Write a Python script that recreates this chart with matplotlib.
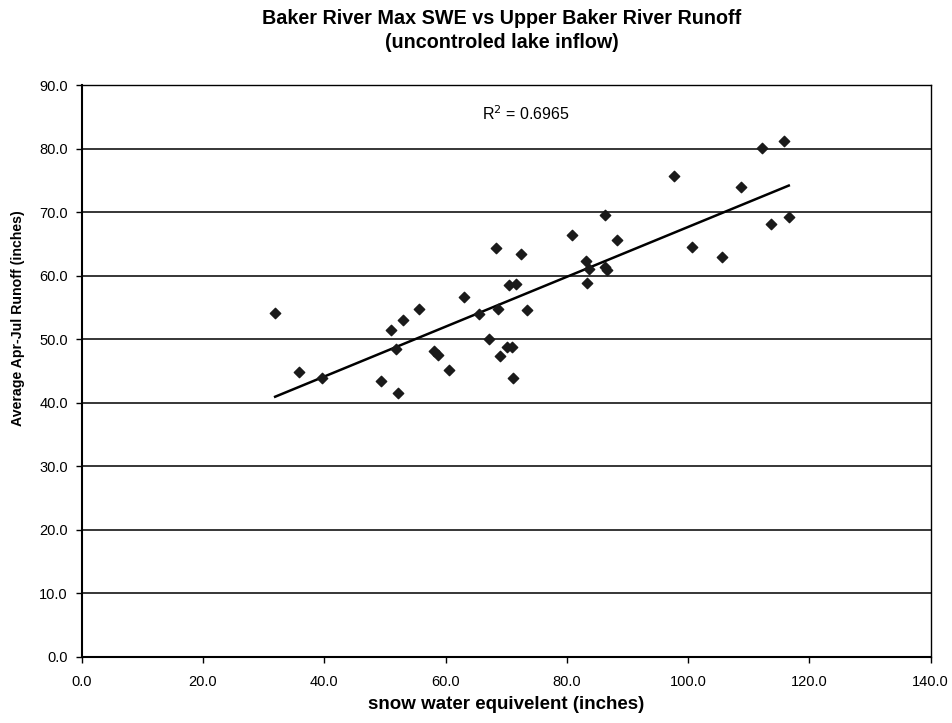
import numpy as np
import matplotlib.pyplot as plt

plt.rcParams['font.family'] = ['Liberation Sans', 'DejaVu Sans']

# max SWE (inches) and Apr-Jul runoff (inches)
swe = [31.9, 35.9, 39.7, 49.4, 51.0, 51.9, 52.1, 53.0, 55.7, 58.1,
       58.8, 60.5, 63.1, 65.5, 67.1, 68.3, 68.7, 69.0, 70.1, 70.5,
       70.9, 71.1, 71.6, 72.4, 73.4, 80.9, 83.1, 83.3, 83.7, 86.3,
       86.3, 86.7, 88.3, 97.6, 100.6, 105.6, 108.7, 112.2, 113.6, 115.8,
       116.6]
runoff = [54.2, 44.8, 43.9, 43.5, 51.5, 48.4, 41.5, 53.0, 54.7, 48.1,
          47.5, 45.2, 56.6, 54.0, 50.1, 64.3, 54.7, 47.4, 48.8, 58.5,
          48.8, 43.9, 58.7, 63.4, 54.6, 66.4, 62.4, 58.9, 61.0, 69.5,
          61.4, 60.9, 65.7, 75.7, 64.6, 63.0, 74.0, 80.2, 68.2, 81.3,
          69.3]
r2_text = "R$^2$ = 0.6965"

x = np.array(swe)
y = np.array(runoff)

fig = plt.figure(figsize=(9.52, 7.23), dpi=100, facecolor='white')
ax = fig.add_axes([0.0858, 0.0917, 0.8918, 0.7903])

ax.set(xlim=(0, 140), xticks=np.arange(0, 141, 20),
       ylim=(0, 90), yticks=np.arange(0, 91, 10))
ax.set_xticklabels([f"{v:.1f}" for v in np.arange(0, 141, 20)])
ax.set_yticklabels([f"{v:.1f}" for v in np.arange(0, 91, 10)])

# horizontal gridlines like Excel
ax.yaxis.grid(True, color='black', linewidth=1.1)
ax.set_axisbelow(True)

ax.scatter(x, y, marker='D', s=28, color='#1a1a1a', zorder=3)

# linear trend line over the data range
m, b = np.polyfit(x, y, 1)
xs = np.array([x.min(), x.max()])
ax.plot(xs, m * xs + b, color='black', linewidth=1.8, zorder=2)

ax.text(73.3, 85.6, r2_text, ha='center', va='center', fontsize=11.5)

for s in ax.spines.values():
    s.set_color('black')
    s.set_linewidth(1.0)
ax.spines['left'].set_linewidth(1.5)
ax.spines['bottom'].set_linewidth(1.5)

ax.tick_params(direction='out', length=4, width=1, labelsize=10.5)
ax.tick_params(axis='x', pad=9)
ax.tick_params(axis='y', pad=6)

ax.set_xlabel('snow water equivelent (inches)', fontsize=13.5, fontweight='bold', labelpad=5)
ax.set_ylabel('Average Apr-Jul Runoff (inches)', fontsize=10.2, fontweight='bold')
ax.yaxis.set_label_coords(-0.067, 0.5925)

fig.text(0.527, 0.9575, 'Baker River Max SWE vs Upper Baker River Runoff\n(uncontroled lake inflow)',
         ha='center', va='center', fontsize=14.2, fontweight='bold', linespacing=1.32)

plt.savefig('out.png', dpi=100)
